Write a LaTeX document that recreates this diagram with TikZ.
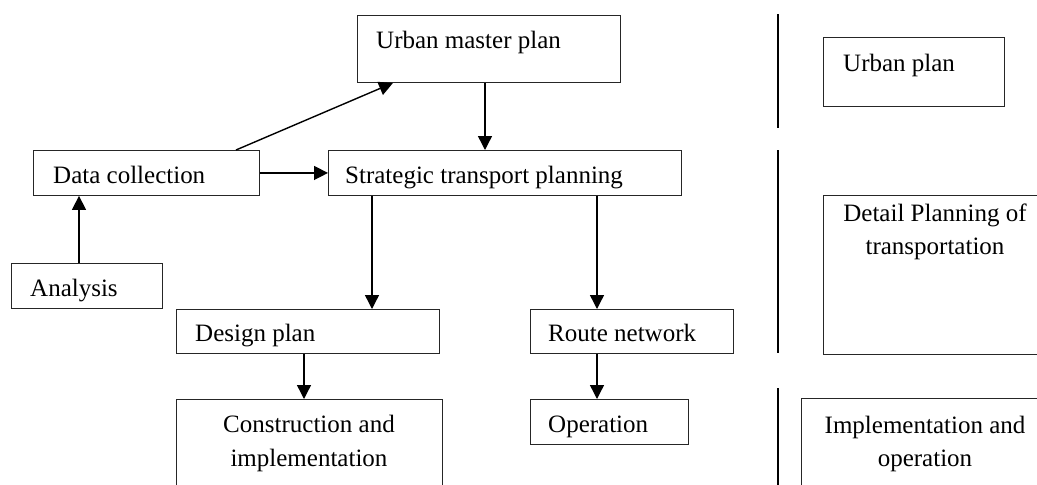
\documentclass[tikz,border=0pt]{standalone}
\usepackage{fontspec}
\setmainfont{Liberation Serif}
\usetikzlibrary{arrows.meta}
\begin{document}
\begin{tikzpicture}[x=1pt,y=-1pt,
  box/.style={draw=black!85, line width=0.9pt, inner sep=0pt, anchor=north west},
  txt/.style={inner sep=0pt, font=\fontsize{25}{33}\selectfont},
  arr/.style={line width=1.4pt, -{Triangle[length=14pt,width=14pt]}},
  sep/.style={line width=1.2pt}]
\useasboundingbox (0,0) rectangle (1037,485);
\clip (0,0) rectangle (1037,485);
% boxes
\node[box, minimum width=263pt, minimum height=67pt] (ump) at (357,15) {};
\node[box, minimum width=353pt, minimum height=45pt] (stp) at (328,150) {};
\node[box, minimum width=226pt, minimum height=45pt] (dc) at (33,150) {};
\node[box, minimum width=151pt, minimum height=45pt] (an) at (11,263) {};
\node[box, minimum width=263pt, minimum height=44pt] (dp) at (176,309) {};
\node[box, minimum width=203pt, minimum height=44pt] (rn) at (530,309) {};
\node[box, minimum width=266pt, minimum height=100pt] (ci) at (176,399) {};
\node[box, minimum width=158pt, minimum height=45pt] (op) at (530,399) {};
\node[box, minimum width=181pt, minimum height=69pt] (up) at (823,37) {};
\node[box, minimum width=240pt, minimum height=159pt] (dpt) at (823,195) {};
\node[box, minimum width=260pt, minimum height=100pt] (io) at (801,398) {};
% texts
\node[txt, anchor=base west] (umpt) at (376,48) {Urban master plan};
\node[txt, anchor=base west] (stpt) at (345,183) {Strategic transport planning};
\node[txt, anchor=base west] (dct) at (53,183) {Data collection};
\node[txt, anchor=base west] (ant) at (30,296) {Analysis};
\node[txt, anchor=base west] (dpt1) at (195,341) {Design plan};
\node[txt, anchor=base west] (rnt) at (548,341) {Route network};
\node[txt, anchor=base] (cit1) at (309,432) {Construction and};
\node[txt, anchor=base] (cit2) at (309,466) {implementation};
\node[txt, anchor=base west] (opt) at (548,432) {Operation};
\node[txt, anchor=base west] (upt) at (843,71) {Urban plan};
\node[txt, anchor=base] (dptt1) at (935,221) {Detail Planning of};
\node[txt, anchor=base] (dptt2) at (935,254) {transportation};
\node[txt, anchor=base] (iot1) at (925,433) {Implementation and};
\node[txt, anchor=base] (iot2) at (925,466) {operation};
% arrow positions
\coordinate (xa) at (79,0);
\coordinate (xd1) at (236,0);
\coordinate (xd2) at (393,0);
\coordinate (xu) at (485,0);
\coordinate (xl) at (372,0);
\coordinate (xr) at (597,0);
\coordinate (xc) at (304,0);
\coordinate (xo) at (597,0);
% connectors
\draw[arr] (an.north -| xa) -- (dc.south -| xa);
\draw[arr] (dc.east) -- (stp.west);
\draw[arr] (dc.north -| xd1) -- (ump.south -| xd2);
\draw[arr] (ump.south -| xu) -- (stp.north -| xu);
\draw[arr] (stp.south -| xl) -- (dp.north -| xl);
\draw[arr] (stp.south -| xr) -- (rn.north -| xr);
\draw[arr] (dp.south -| xc) -- (ci.north -| xc);
\draw[arr] (rn.south -| xo) -- (op.north -| xo);
% separators
\draw[sep] (778,14) -- (778,128);
\draw[sep] (778,150) -- (778,353);
\draw[sep] (778,388) -- (778,490);
\end{tikzpicture}
\end{document}
